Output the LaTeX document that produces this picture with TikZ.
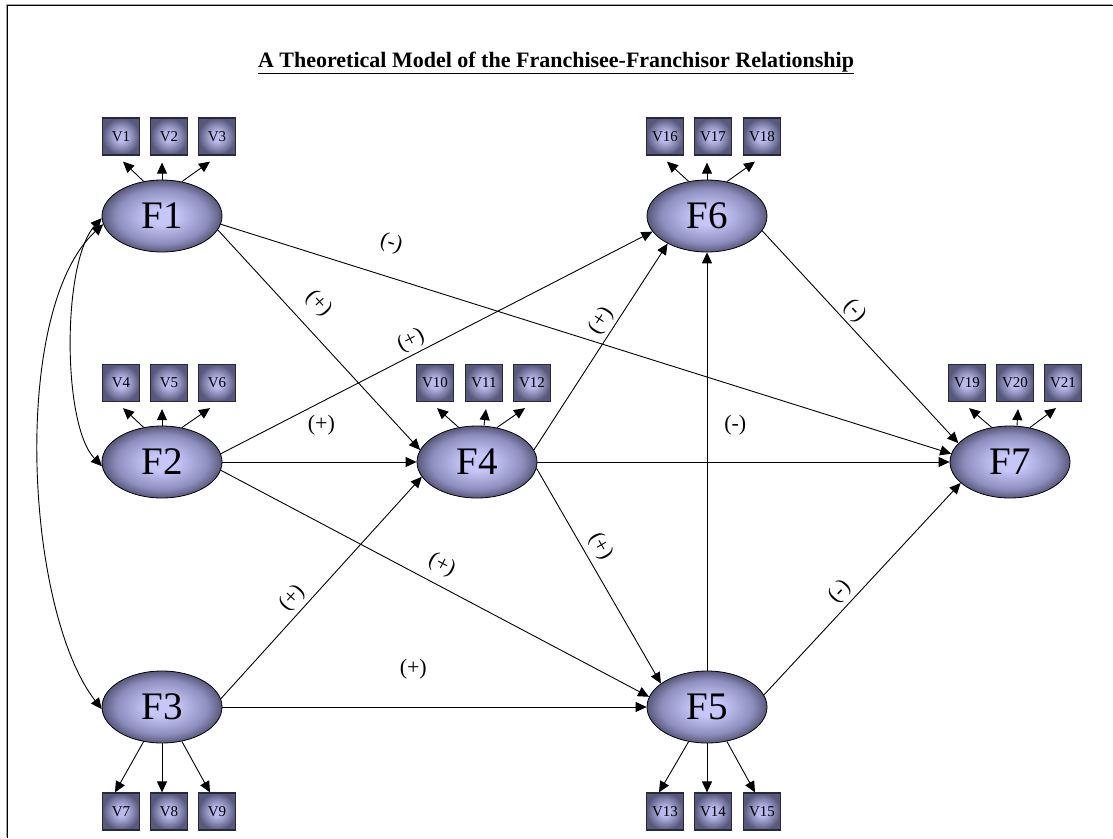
\documentclass[tikz,border=0pt]{standalone}
\usepackage{fontspec}
\setmainfont{Liberation Serif}
\usetikzlibrary{arrows.meta,shapes.geometric,calc}
\definecolor{facin}{RGB}{198,198,248}
\definecolor{facmid}{RGB}{142,142,190}
\definecolor{facout}{RGB}{88,88,124}
\definecolor{varin}{RGB}{185,185,235}
\definecolor{varout}{RGB}{88,88,125}
\definecolor{varline}{RGB}{40,40,60}
\pgfdeclareradialshading{facshade}{\pgfpoint{0bp}{0bp}}{color(0bp)=(facin); color(6bp)=(facin); color(19bp)=(facmid); color(25bp)=(facout); color(50bp)=(facout)}
\pgfdeclareradialshading{varshade}{\pgfpoint{0bp}{0bp}}{color(0bp)=(varin); color(7bp)=(varin); color(25bp)=(varout); color(50bp)=(varout)}
\begin{document}
\begin{tikzpicture}[x=1pt,y=-1pt,
  fac/.style={ellipse, draw=black, line width=0.8pt, minimum width=120pt, minimum height=72pt, inner sep=0pt, shading=facshade, font=\fontsize{39}{39}\selectfont},
  var/.style={rectangle, draw=varline, line width=1.2pt, minimum size=37pt, inner sep=0pt, shading=varshade, font=\fontsize{15}{15}\selectfont},
  arr/.style={-{Triangle[length=11pt,width=10pt]}, line width=0.9pt},
  darr/.style={{Triangle[length=11pt,width=10pt]}-{Triangle[length=11pt,width=10pt]}, line width=0.9pt},
  lab/.style={font=\fontsize{22}{22}\selectfont, inner sep=1pt, sloped}]
\useasboundingbox (0,0) rectangle (1113,838);
\coordinate (bl) at (7.5,838);
\coordinate (tl) at (7.5,5.5);
\coordinate (tr) at (1113,5.5);
\draw[line width=1pt, black!35] ([shift={(-1.3pt,1.3pt)}]bl) -- ([shift={(-1.3pt,1.3pt)}]tl) -- ([shift={(-1.3pt,1.3pt)}]tr);
\draw[line width=1.5pt] (bl) -- (tl) -- (tr);

\node[anchor=base, font=\fontsize{22}{22}\selectfont\bfseries] (title) at (556,67) {\underline{A Theoretical Model of the Franchisee-Franchisor Relationship}};

% factors
\node[fac] (F1) at (162,216) {F1};
\node[fac] (F2) at (162,462) {F2};
\node[fac] (F3) at (162,707) {F3};
\node[fac] (F4) at (477,462) {F4};
\node[fac] (F5) at (707,707) {F5};
\node[fac] (F6) at (707,216) {F6};
\node[fac] (F7) at (1010,462) {F7};

% indicators
\node[var] (V1) at (121,136.5) {V1};
\node[var] (V2) at (169,136.5) {V2};
\node[var] (V3) at (217,136.5) {V3};
\node[var] (V4) at (121,383) {V4};
\node[var] (V5) at (169,383) {V5};
\node[var] (V6) at (217,383) {V6};
\node[var] (V7) at (121,811.5) {V7};
\node[var] (V8) at (169,811.5) {V8};
\node[var] (V9) at (217,811.5) {V9};
\node[var] (V10) at (435,383) {V10};
\node[var] (V11) at (484,383) {V11};
\node[var] (V12) at (532,383) {V12};
\node[var] (V13) at (665,811.5) {V13};
\node[var] (V14) at (713,811.5) {V14};
\node[var] (V15) at (762,811.5) {V15};
\node[var] (V16) at (665,136.5) {V16};
\node[var] (V17) at (713,136.5) {V17};
\node[var] (V18) at (762,136.5) {V18};
\node[var] (V19) at (967,383) {V19};
\node[var] (V20) at (1015,383) {V20};
\node[var] (V21) at (1063,383) {V21};

% indicator arrows (top)
\draw[arr] (F1.118) -- ([shift={(2pt,-6pt)}]V1.south);
\draw[arr] (F1.north) -- ([yshift=-7pt]V2.south -| F1.north);
\draw[arr] (F1.60) -- ([shift={(-7pt,-6pt)}]V3.south);
\draw[arr] (F2.118) -- ([shift={(2pt,-6pt)}]V4.south);
\draw[arr] (F2.north) -- ([yshift=-7pt]V5.south -| F2.north);
\draw[arr] (F2.60) -- ([shift={(-7pt,-6pt)}]V6.south);
\draw[arr] (F4.118) -- ([shift={(2pt,-6pt)}]V10.south);
\draw[arr] ([xshift=7pt]F4.north) -- ([shift={(2pt,-7pt)}]V11.south);
\draw[arr] (F4.60) -- ([shift={(-7pt,-6pt)}]V12.south);
\draw[arr] (F6.118) -- ([shift={(2pt,-6pt)}]V16.south);
\draw[arr] (F6.north) -- ([yshift=-7pt]V17.south -| F6.north);
\draw[arr] (F6.60) -- ([shift={(-7pt,-6pt)}]V18.south);
\draw[arr] (F7.118) -- ([shift={(2pt,-6pt)}]V19.south);
\draw[arr] ([xshift=7pt]F7.north) -- ([shift={(3pt,-7pt)}]V20.south);
\draw[arr] (F7.60) -- ([shift={(-7pt,-6pt)}]V21.south);
% indicator arrows (bottom)
\draw[arr] (F3.242) -- ([xshift=-6pt]V7.north);
\draw[arr] (F3.south) -- (V8.north -| F3.south);
\draw[arr] (F3.300) -- ([xshift=-7pt]V9.north);
\draw[arr] (F5.242) -- ([xshift=-6pt]V13.north);
\draw[arr] (F5.south) -- (V14.north -| F5.south);
\draw[arr] (F5.300) -- ([xshift=-7pt]V15.north);

% correlations
\draw[darr] (F1.182) .. controls (62,262) and (62,425) .. (F2.184);
\draw[darr] (F1.188) .. controls (10,310) and (25,610) .. (F3.182);

% structural paths
\draw[arr] (F1.-8) -- node[lab, pos=0.22, above=21pt] (L1) {(-)} (F7.172);
\draw[arr] (F1.-14) -- node[lab, pos=0.41, above=13pt] (L2) {(+)} (F4.168);
\draw[arr] (F2.8) -- node[lab, pos=0.455, above=2pt] (L3) {(+)} (F6.196);
\draw[arr] (F2.0) -- node[lab, pos=0.51, above=25pt] (L4) {(+)} (F4.180);
\draw[arr] (F2.-8) -- node[lab, pos=0.495, above=8pt] (L5) {(+)} (F5.170);
\draw[arr] (F3.8) -- node[lab, pos=0.41, above=3pt] (L6) {(+)} (F4.195);
\draw[arr] (F3.0) -- node[lab, pos=0.45, above=26pt] (L7) {(+)} (F5.180);
\draw[arr] (F4.12) -- node[lab, pos=0.59, above=2pt] (L8) {(+)} (F6.215);
\draw[arr] (F4.0) -- node[lab, pos=0.48, above=25pt] (L9) {(-)} (F7.180);
\draw[arr] (F4.-6) -- node[lab, pos=0.40, above=5pt] (L10) {(+)} (F5.153);
\draw[arr] (F5.north) -- (F6.south);
\draw[arr] (F5.12) -- node[lab, pos=0.44, above=3pt] (L11) {(-)} (F7.203);
\draw[arr] (F6.-15) -- node[lab, pos=0.42, above=2pt] (L12) {(-)} (F7.160);
\end{tikzpicture}
\end{document}
